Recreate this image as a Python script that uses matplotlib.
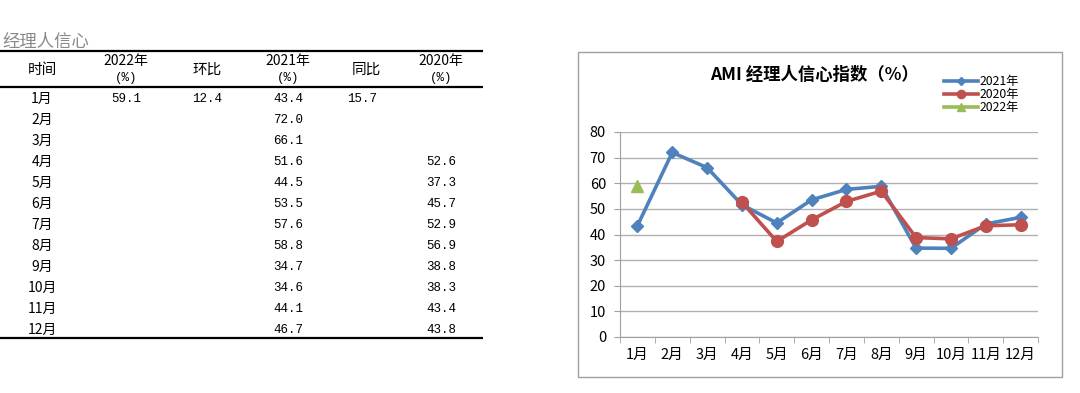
import numpy as np
import matplotlib
matplotlib.use("Agg")
import matplotlib.pyplot as plt
from matplotlib.patches import Rectangle

plt.rcParams['font.family'] = ['Noto Sans CJK SC', 'DejaVu Sans']

months = ['1月', '2月', '3月', '4月', '5月', '6月', '7月', '8月', '9月', '10月', '11月', '12月']
v2022 = [59.1]
hb2022 = [12.4]
v2021 = [43.4, 72.0, 66.1, 51.6, 44.5, 53.5, 57.6, 58.8, 34.7, 34.6, 44.1, 46.7]
tb2022 = [15.7]
v2020 = [None, None, None, 52.6, 37.3, 45.7, 52.9, 56.9, 38.8, 38.3, 43.4, 43.8]

blue = '#4F81BD'
red = '#C0504D'
green = '#9BBB59'

fig = plt.figure(figsize=(10.8, 3.93), dpi=100)

# ---- table on the left (pixel coords) ----
tb = fig.add_axes([0, 0, 0.5, 1])
tb.set_xlim(0, 540)
tb.set_ylim(393, 0)
tb.axis('off')

num_font = ['Liberation Mono', 'DejaVu Sans Mono']
tb.text(2, 51, '经理人信心', fontsize=12.5, color='#8a8a8a', ha='left', va='bottom')
for y in (51, 87, 338):
    tb.plot([0, 483], [y, y], color='black', lw=1.6, solid_capstyle='butt')

col_x = [42, 126, 207, 288, 366, 441]
tb.text(col_x[0], 70, '时间', fontsize=10.5, ha='center', va='center')
tb.text(col_x[2], 70, '环比', fontsize=10.5, ha='center', va='center')
tb.text(col_x[4], 70, '同比', fontsize=10.5, ha='center', va='center')
for cx, yr in zip((col_x[1], col_x[3], col_x[5]), ('2022年', '2021年', '2020年')):
    tb.text(cx, 61, yr, fontsize=10, ha='center', va='center')
    tb.text(cx, 78, '(%)', fontsize=9, ha='center', va='center', family=num_font)

for i, m in enumerate(months):
    y = 99 + i * 21
    tb.text(col_x[0], y, m, fontsize=10, ha='center', va='center')
    tb.text(col_x[3], y, f'{v2021[i]:.1f}', fontsize=9, ha='center', va='center', family=num_font)
    if i < len(v2022):
        tb.text(col_x[1], y, f'{v2022[i]:.1f}', fontsize=9, ha='center', va='center', family=num_font)
        tb.text(col_x[2], y, f'{hb2022[i]:.1f}', fontsize=9, ha='center', va='center', family=num_font)
        tb.text(col_x[4] - 4, y, f'{tb2022[i]:.1f}', fontsize=9, ha='center', va='center', family=num_font)
    if v2020[i] is not None:
        tb.text(col_x[5], y, f'{v2020[i]:.1f}', fontsize=9, ha='center', va='center', family=num_font)

# ---- chart on the right ----
fig.patches.append(Rectangle((578 / 1080, 1 - 377 / 393), 484 / 1080, 325 / 393,
                             transform=fig.transFigure, fill=False,
                             edgecolor='#a0a0a0', lw=1))

ax = fig.add_axes([620 / 1080, 1 - 337 / 393, 418 / 1080, 205 / 393])
x = np.arange(len(months))
y2020 = np.array([np.nan if v is None else v for v in v2020])
ax.plot(x, v2021, color=blue, lw=2.6, marker='D', ms=6.5, label='2021年', zorder=3)
ax.plot(x, y2020, color=red, lw=2.6, marker='o', ms=8.5, label='2020年', zorder=4)
ax.plot(x[:len(v2022)], v2022, color=green, lw=2.6, marker='^', ms=8, label='2022年', zorder=5)

ax.set_xlim(-0.5, 11.5)
ax.set_ylim(0, 80)
ax.set_yticks(range(0, 81, 10))
ax.set_xticks(x)
ax.set_xticklabels(months)
ax.set_xticks(np.arange(-0.5, 12, 1), minor=True)
ax.tick_params(axis='x', which='major', length=0, labelsize=10.5, pad=8)
ax.tick_params(axis='x', which='minor', length=4, color='#a0a0a0')
ax.tick_params(axis='y', length=4, color='#a0a0a0', labelsize=10.5, pad=6)
ax.grid(axis='y', color='#b0b0b0', lw=1)
ax.set_axisbelow(True)
for s in ('top', 'right'):
    ax.spines[s].set_visible(False)
for s in ('left', 'bottom'):
    ax.spines[s].set_color('#a0a0a0')

fig.text(814 / 1080, 1 - 75 / 393, 'AMI 经理人信心指数（%）', fontsize=12.5,
         fontweight='bold', ha='center', va='center')
fig.legend(loc='upper left', bbox_to_anchor=(938 / 1080, 1 - 69 / 393), frameon=False,
           fontsize=8.8, labelspacing=0, handlelength=2.8, handletextpad=0.1,
           borderpad=0, markerscale=0.7)

fig.savefig('out.png', dpi=100)
